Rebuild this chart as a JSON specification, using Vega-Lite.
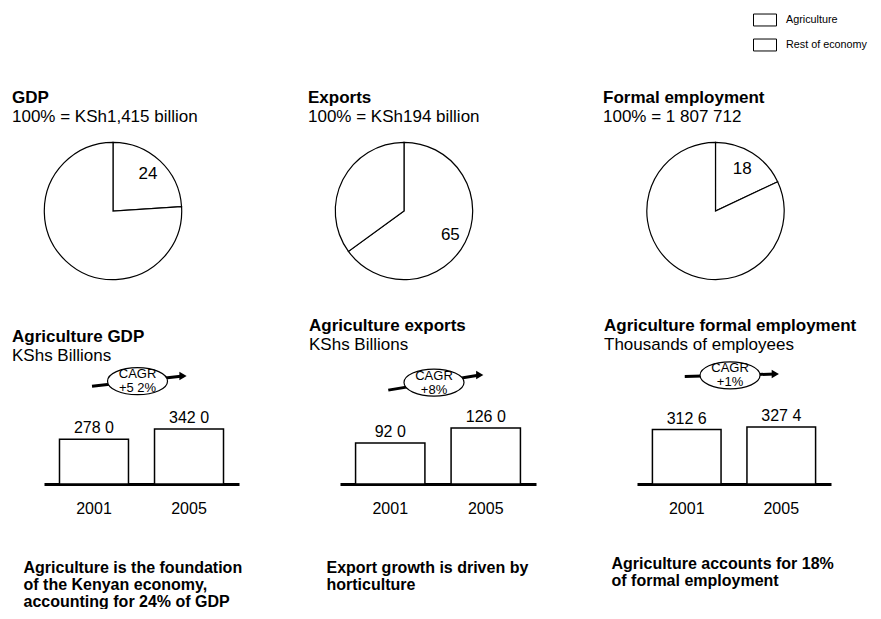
{
  "$schema": "https://vega.github.io/schema/vega-lite/v6.json",
  "padding": {"left": 12, "top": 8, "right": 0, "bottom": 0},
  "bounds": "flush",
  "align": "each",
  "columns": 3,
  "spacing": {"row": 60, "column": 101},
  "config": {
    "font": "Liberation Sans",
    "view": {"stroke": null},
    "title": {"anchor": "start", "frame": "group", "fontSize": 17, "fontWeight": "bold", "subtitleFontSize": 17, "subtitlePadding": 2, "offset": 6, "color": "black", "subtitleColor": "black"},
    "axis": {"labelColor": "black", "titleColor": "black"},
    "legend": {"orient": "none", "legendX": 709, "legendY": -124, "title": null, "symbolType": "M-1,-0.52H1V0.52H-1Z", "symbolSize": 529, "symbolStrokeColor": "black", "symbolStrokeWidth": 1, "labelFontSize": 10.8, "labelOffset": 9, "rowPadding": 5, "labelColor": "black"}
  },
  "datasets": {
    "pies": [
      {"chart": "GDP", "sector": "Agriculture", "share": 24, "label": "24"},
      {"chart": "GDP", "sector": "Rest of economy", "share": 76, "label": ""},
      {"chart": "Exports", "sector": "Agriculture", "share": 65, "label": "65"},
      {"chart": "Exports", "sector": "Rest of economy", "share": 35, "label": ""},
      {"chart": "Formal employment", "sector": "Agriculture", "share": 18, "label": "18"},
      {"chart": "Formal employment", "sector": "Rest of economy", "share": 82, "label": ""}
    ],
    "bars": [
      {"panel": "GDP", "year": 2001, "value": 278.0, "label": "278 0", "cagr": "+5 2%"},
      {"panel": "GDP", "year": 2005, "value": 342.0, "label": "342 0", "cagr": "+5 2%"},
      {"panel": "Exports", "year": 2001, "value": 92.0, "label": "92 0", "cagr": "+8%"},
      {"panel": "Exports", "year": 2005, "value": 126.0, "label": "126 0", "cagr": "+8%"},
      {"panel": "Employment", "year": 2001, "value": 312.6, "label": "312 6", "cagr": "+1%"},
      {"panel": "Employment", "year": 2005, "value": 327.4, "label": "327 4", "cagr": "+1%"}
    ]
  },
  "concat": [
    {
      "width": 138, "height": 158,
      "title": {"text": "GDP", "subtitle": "100% = KSh1,415 billion", "dx": -32},
      "data": {"name": "pies"},
      "transform": [{"filter": "datum.chart === 'GDP'"}],
      "encoding": {
        "theta": {"field": "share", "type": "quantitative", "stack": true},
        "order": {"field": "sector"},
        "color": {"field": "sector", "type": "nominal", "scale": {"domain": ["Agriculture", "Rest of economy"], "range": ["white", "white"]}}
      },
      "layer": [
        {"mark": {"type": "arc", "radius": 68.7, "stroke": "black", "strokeWidth": 1.2}},
        {"mark": {"type": "text", "radius": 51, "fontSize": 17}, "encoding": {"text": {"field": "label"}, "color": {"value": "black"}}}
      ]
    },
    {
      "width": 128, "height": 158,
      "title": {"text": "Exports", "subtitle": "100% = KSh194 billion", "dx": -32},
      "data": {"name": "pies"},
      "transform": [{"filter": "datum.chart === 'Exports'"}],
      "encoding": {
        "theta": {"field": "share", "type": "quantitative", "stack": true},
        "order": {"field": "sector"},
        "color": {"field": "sector", "type": "nominal", "scale": {"domain": ["Agriculture", "Rest of economy"], "range": ["white", "white"]}}
      },
      "layer": [
        {"mark": {"type": "arc", "radius": 68.7, "stroke": "black", "strokeWidth": 1.2}},
        {"mark": {"type": "text", "radius": 52, "fontSize": 17}, "encoding": {"text": {"field": "label"}, "color": {"value": "black"}}}
      ]
    },
    {
      "width": 157, "height": 158,
      "title": {"text": "Formal employment", "subtitle": "100% = 1 807 712", "dx": -34},
      "data": {"name": "pies"},
      "transform": [{"filter": "datum.chart === 'Formal employment'"}],
      "encoding": {
        "theta": {"field": "share", "type": "quantitative", "stack": true},
        "order": {"field": "sector"},
        "color": {"field": "sector", "type": "nominal", "scale": {"domain": ["Agriculture", "Rest of economy"], "range": ["white", "white"]}}
      },
      "layer": [
        {"mark": {"type": "arc", "radius": 68.7, "stroke": "black", "strokeWidth": 1.2}},
        {"mark": {"type": "text", "radius": 50, "fontSize": 17}, "encoding": {"text": {"field": "label"}, "color": {"value": "black"}}}
      ]
    },
    {
      "width": 195, "height": 134,
      "title": {"text": "Agriculture GDP", "subtitle": "KShs Billions", "dx": -32, "offset": -15},
      "data": {"name": "bars"},
      "transform": [{"filter": "datum.panel === 'GDP'"}],
      "encoding": {"y": {"field": "value", "type": "quantitative", "scale": {"domain": [0, 833], "nice": false}, "axis": null}},
      "layer": [
        {
          "encoding": {"x": {"field": "year", "type": "ordinal", "scale": {"paddingInner": 0.274, "paddingOuter": 0.163},
            "axis": {"title": ["Agriculture is the foundation", "of the Kenyan economy,", "accounting for 24% of GDP"], "titleX": -21, "titleY": 88, "titleAlign": "left", "titleBaseline": "alphabetic", "titleFontSize": 16, "titleFontWeight": "bold", "titleLineHeight": 17, "labelAngle": 0, "labelFontSize": 16, "labelPadding": 16, "ticks": false, "tickSize": 0, "domainWidth": 3, "domainColor": "black"}}},
          "layer": [
            {"mark": {"type": "bar", "fill": "white", "stroke": "black", "strokeWidth": 1.5}},
            {"mark": {"type": "text", "baseline": "alphabetic", "dy": -6, "fontSize": 16}, "encoding": {"text": {"field": "label"}}}
          ]
        },
        {
          "encoding": {"x": {"field": "year", "type": "quantitative", "scale": {"domain": [1998.89, 2007.46]}, "axis": null}},
          "layer": [
            {"mark": {"type": "line", "stroke": "black", "strokeWidth": 3, "yOffset": -53}},
            {"transform": [{"filter": "datum.year === 2005"}], "mark": {"type": "point", "shape": "triangle-right", "filled": true, "fill": "black", "opacity": 1, "size": 70, "yOffset": -53}},
            {"mark": {"type": "point", "shape": "M-1,0A1,0.45,0,1,1,1,0A1,0.45,0,1,1,-1,0Z", "size": 3600, "filled": true, "fill": "white", "stroke": "black", "strokeWidth": 1.2, "opacity": 1, "yOffset": -53},
             "encoding": {"x": {"aggregate": "mean", "field": "year", "type": "quantitative"}, "y": {"aggregate": "mean", "field": "value", "type": "quantitative"}}},
            {"mark": {"type": "text", "fontSize": 13, "yOffset": -53, "dy": -7},
             "encoding": {"x": {"aggregate": "mean", "field": "year", "type": "quantitative"}, "y": {"aggregate": "mean", "field": "value", "type": "quantitative"}, "text": {"value": "CAGR"}}},
            {"mark": {"type": "text", "fontSize": 13, "yOffset": -53, "dy": 7},
             "encoding": {"x": {"aggregate": "mean", "field": "year", "type": "quantitative"}, "y": {"aggregate": "mean", "field": "value", "type": "quantitative"}, "text": {"field": "cagr"}}}
          ]
        }
      ],
      "resolve": {"scale": {"x": "independent"}}
    },
    {
      "width": 196, "height": 134,
      "title": {"text": "Agriculture exports", "subtitle": "KShs Billions", "dx": -31, "offset": -4},
      "data": {"name": "bars"},
      "transform": [{"filter": "datum.panel === 'Exports'"}],
      "encoding": {"y": {"field": "value", "type": "quantitative", "scale": {"domain": [0, 301.5], "nice": false}, "axis": null}},
      "layer": [
        {
          "encoding": {"x": {"field": "year", "type": "ordinal", "scale": {"paddingInner": 0.274, "paddingOuter": 0.163},
            "axis": {"title": ["Export growth is driven by", "horticulture"], "titleX": -14, "titleY": 88, "titleAlign": "left", "titleBaseline": "alphabetic", "titleFontSize": 16, "titleFontWeight": "bold", "titleLineHeight": 17, "labelAngle": 0, "labelFontSize": 16, "labelPadding": 16, "ticks": false, "tickSize": 0, "domainWidth": 3, "domainColor": "black"}}},
          "layer": [
            {"mark": {"type": "bar", "fill": "white", "stroke": "black", "strokeWidth": 1.5}},
            {"mark": {"type": "text", "baseline": "alphabetic", "dy": -6, "fontSize": 16}, "encoding": {"text": {"field": "label"}}}
          ]
        },
        {
          "encoding": {"x": {"field": "year", "type": "quantitative", "scale": {"domain": [1998.89, 2007.46]}, "axis": null}},
          "layer": [
            {"mark": {"type": "line", "stroke": "black", "strokeWidth": 3, "yOffset": -53}},
            {"transform": [{"filter": "datum.year === 2005"}], "mark": {"type": "point", "shape": "triangle-right", "filled": true, "fill": "black", "opacity": 1, "size": 70, "yOffset": -53}},
            {"mark": {"type": "point", "shape": "M-1,0A1,0.45,0,1,1,1,0A1,0.45,0,1,1,-1,0Z", "size": 3600, "filled": true, "fill": "white", "stroke": "black", "strokeWidth": 1.2, "opacity": 1, "yOffset": -53},
             "encoding": {"x": {"aggregate": "mean", "field": "year", "type": "quantitative"}, "y": {"aggregate": "mean", "field": "value", "type": "quantitative"}}},
            {"mark": {"type": "text", "fontSize": 13, "yOffset": -53, "dy": -7},
             "encoding": {"x": {"aggregate": "mean", "field": "year", "type": "quantitative"}, "y": {"aggregate": "mean", "field": "value", "type": "quantitative"}, "text": {"value": "CAGR"}}},
            {"mark": {"type": "text", "fontSize": 13, "yOffset": -53, "dy": 7},
             "encoding": {"x": {"aggregate": "mean", "field": "year", "type": "quantitative"}, "y": {"aggregate": "mean", "field": "value", "type": "quantitative"}, "text": {"field": "cagr"}}}
          ]
        }
      ],
      "resolve": {"scale": {"x": "independent"}}
    },
    {
      "width": 194, "height": 134,
      "title": {"text": "Agriculture formal employment", "subtitle": "Thousands of employees", "dx": -33, "offset": -4},
      "data": {"name": "bars"},
      "transform": [{"filter": "datum.panel === 'Employment'"}],
      "encoding": {"y": {"field": "value", "type": "quantitative", "scale": {"domain": [0, 770], "nice": false}, "axis": null}},
      "layer": [
        {
          "encoding": {"x": {"field": "year", "type": "ordinal", "scale": {"paddingInner": 0.274, "paddingOuter": 0.163},
            "axis": {"title": ["Agriculture accounts for 18%", "of formal employment"], "titleX": -26, "titleY": 84, "titleAlign": "left", "titleBaseline": "alphabetic", "titleFontSize": 16, "titleFontWeight": "bold", "titleLineHeight": 17, "labelAngle": 0, "labelFontSize": 16, "labelPadding": 16, "ticks": false, "tickSize": 0, "domainWidth": 3, "domainColor": "black"}}},
          "layer": [
            {"mark": {"type": "bar", "fill": "white", "stroke": "black", "strokeWidth": 1.5}},
            {"mark": {"type": "text", "baseline": "alphabetic", "dy": -6, "fontSize": 16}, "encoding": {"text": {"field": "label"}}}
          ]
        },
        {
          "encoding": {"x": {"field": "year", "type": "quantitative", "scale": {"domain": [1998.89, 2007.46]}, "axis": null}},
          "layer": [
            {"mark": {"type": "line", "stroke": "black", "strokeWidth": 3, "yOffset": -53}},
            {"transform": [{"filter": "datum.year === 2005"}], "mark": {"type": "point", "shape": "triangle-right", "filled": true, "fill": "black", "opacity": 1, "size": 70, "yOffset": -53}},
            {"mark": {"type": "point", "shape": "M-1,0A1,0.45,0,1,1,1,0A1,0.45,0,1,1,-1,0Z", "size": 3600, "filled": true, "fill": "white", "stroke": "black", "strokeWidth": 1.2, "opacity": 1, "yOffset": -53},
             "encoding": {"x": {"aggregate": "mean", "field": "year", "type": "quantitative"}, "y": {"aggregate": "mean", "field": "value", "type": "quantitative"}}},
            {"mark": {"type": "text", "fontSize": 13, "yOffset": -53, "dy": -7},
             "encoding": {"x": {"aggregate": "mean", "field": "year", "type": "quantitative"}, "y": {"aggregate": "mean", "field": "value", "type": "quantitative"}, "text": {"value": "CAGR"}}},
            {"mark": {"type": "text", "fontSize": 13, "yOffset": -53, "dy": 7},
             "encoding": {"x": {"aggregate": "mean", "field": "year", "type": "quantitative"}, "y": {"aggregate": "mean", "field": "value", "type": "quantitative"}, "text": {"field": "cagr"}}}
          ]
        }
      ],
      "resolve": {"scale": {"x": "independent"}}
    }
  ]
}
